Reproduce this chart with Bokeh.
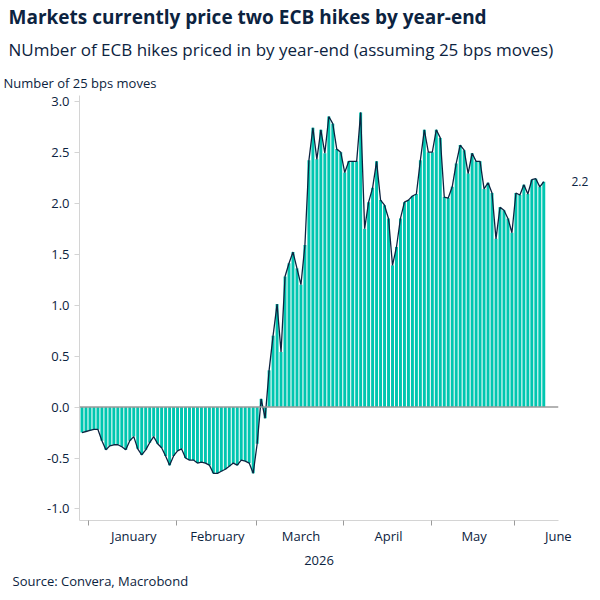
import pandas as pd
from bokeh.plotting import figure
from bokeh.models import (FixedTicker, Span, Title, Range1d, CustomJSTickFormatter,
                          ColumnDataSource, LinearAxis)
from bokeh.embed import file_html
from bokeh.resources import INLINE

# ---- data ----
dates = pd.bdate_range("2025-12-30", "2026-06-10")
hikes = [
    -0.25, -0.24, -0.23, -0.22, -0.22, -0.33, -0.42, -0.38, -0.37, -0.37,
    -0.39, -0.42, -0.33, -0.29, -0.41, -0.47, -0.42, -0.35, -0.29, -0.36,
    -0.40, -0.48, -0.57, -0.48, -0.43, -0.41, -0.50, -0.52, -0.52, -0.55,
    -0.54, -0.55, -0.57, -0.65, -0.65, -0.63, -0.61, -0.58, -0.55, -0.57,
    -0.52, -0.53, -0.55, -0.65, -0.36, 0.08, -0.11, 0.36, 0.70, 1.01,
    0.54, 1.28, 1.41, 1.52, 1.36, 1.20, 1.59, 2.42, 2.74, 2.43,
    2.72, 2.49, 2.85, 2.78, 2.53, 2.50, 2.30, 2.41, 2.41, 2.41,
    2.89, 1.75, 2.01, 2.15, 2.41, 2.03, 1.98, 1.85, 1.39, 1.57,
    1.85, 2.01, 2.03, 2.07, 2.09, 2.42, 2.72, 2.50, 2.50, 2.72,
    2.64, 2.06, 2.05, 2.16, 2.39, 2.57, 2.52, 2.29, 2.49, 2.41,
    2.41, 2.14, 2.20, 2.10, 1.65, 1.96, 1.93, 1.85, 1.71, 2.10,
    2.08, 2.18, 2.09, 2.23, 2.24, 2.16, 2.21,
]
month_names = ["January", "February", "March", "April", "May", "June"]
year_label = "2026"
last_label = "2.2"
y_ticks = [-1.0, -0.5, 0.0, 0.5, 1.0, 1.5, 2.0, 2.5, 3.0]

idx = list(range(len(dates)))
src = ColumnDataSource(dict(x=idx, y=hikes))

starts = []
for m in range(1, 7):
    first = [i for i, d in enumerate(dates) if d.year == 2026 and d.month == m][0]
    starts.append(first)
month_len = [22, 20, 22, 22, 21, 22]
X_START, X_END = -0.63, 119.7
mids = [min(s + L / 2.0, X_END - 0.05) for s, L in zip(starts, month_len)]
tick_starts = [s - 0.25 for s in starts]

NAVY = "#0c2340"
TEAL = "#00c6b0"
GREY = "#d4d4d4"
FONT = "Open Sans"

p = figure(width=600, height=600, output_backend="svg", toolbar_location=None,
           x_range=Range1d(X_START, X_END), y_range=Range1d(-1.113, 3.056),
           min_border_left=79, min_border_right=42, min_border_top=95, min_border_bottom=80)
p.outline_line_color = None
p.grid.visible = False
p.background_fill_color = "white"
p.border_fill_color = "white"

p.vbar(x="x", top="y", bottom=0, width=0.74, source=src, fill_color=TEAL, line_color=None)
p.line(x="x", y="y", source=src, line_color=NAVY, line_width=1.3)
p.add_layout(Span(location=0, dimension="width", line_color="#9a9a9a", line_width=1.5))

# y axis
ya = p.yaxis[0]
ya.ticker = FixedTicker(ticks=y_ticks)
ya.formatter = CustomJSTickFormatter(code="return tick.toFixed(1);")
ya.axis_line_color = GREY
ya.major_tick_line_color = GREY
ya.major_tick_out = 5
ya.major_tick_in = 0
ya.minor_tick_line_color = None
ya.major_label_text_font = FONT
ya.major_label_text_font_size = "13px"
ya.major_label_text_color = NAVY

# right axis carrying the last value label
ra = LinearAxis(ticker=FixedTicker(ticks=[hikes[-1]]),
                major_label_overrides={hikes[-1]: last_label})
ra.axis_line_color = None
ra.major_tick_line_color = None
ra.major_tick_out = 0
ra.minor_tick_line_color = None
ra.major_label_standoff = 13
ra.major_label_text_font = FONT
ra.major_label_text_font_size = "12px"
ra.major_label_text_color = NAVY
p.add_layout(ra, "right")

# x axis
xa = p.xaxis[0]
xa.ticker = FixedTicker(ticks=mids, minor_ticks=tick_starts)
xa.major_label_overrides = {m: n for m, n in zip(mids, month_names)}
xa.axis_line_color = GREY
xa.major_tick_line_color = None
xa.major_tick_out = 0
xa.major_tick_in = 0
xa.minor_tick_line_color = "#9a9a9a"
xa.minor_tick_out = 5
xa.minor_tick_in = 0
xa.major_label_standoff = 1
xa.major_label_text_font = FONT
xa.major_label_text_font_size = "13px"
xa.major_label_text_color = NAVY
xa.axis_label = year_label
xa.axis_label_text_font = FONT
xa.axis_label_text_font_size = "13px"
xa.axis_label_text_font_style = "normal"
xa.axis_label_text_color = NAVY
xa.axis_label_standoff = 8

def title(text, size, where, offset, standoff, bold=False):
    p.add_layout(Title(text=text, text_font=FONT, text_font_size=size, text_color=NAVY,
                       text_font_style="bold" if bold else "normal",
                       align="left", offset=offset, standoff=standoff), where)

title("Number of 25 bps moves", "13px", "above", -76, 8)
title("NUmber of ECB hikes priced in by year-end (assuming 25 bps moves)", "17px", "above", -71, 14)
title("Markets currently price two ECB hikes by year-end", "19px", "above", -71, -3, bold=True)
title("Source: Convera, Macrobond", "13px", "below", -67, 5)

open("out.html", "w").write(file_html(p, INLINE))
